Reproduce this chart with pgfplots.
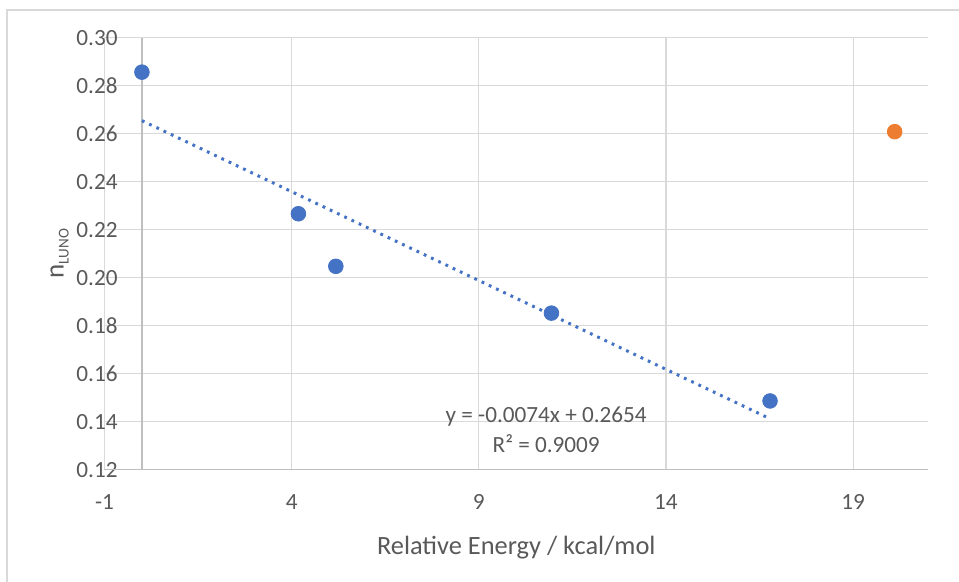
\documentclass[border=0pt]{standalone}
\usepackage{fontspec}
\setmainfont{Carlito}
\usepackage{pgfplots}
\pgfplotsset{compat=1.18}
\definecolor{gridgray}{HTML}{D9D9D9}
\definecolor{axgray}{HTML}{BFBFBF}
\definecolor{txt}{HTML}{595959}
\definecolor{xlblue}{HTML}{4472C4}
\definecolor{xlorange}{HTML}{ED7D31}

\begin{document}
\begin{tikzpicture}
% page size and chart frame
\path[use as bounding box] (-52.25pt,-56.2pt) rectangle (427.25pt,234.8pt);
\draw[gridgray, line width=0.6pt] (-48.75pt,-60pt) -- (-48.75pt,229.8pt) -- (430pt,229.8pt);
\begin{axis}[
    scale only axis, width=411.75pt, height=216pt,
    xmin=-1, xmax=21, ymin=0.12, ymax=0.30,
    xtick={-1,4,9,14,19},
    ytick={0.12,0.14,0.16,0.18,0.20,0.22,0.24,0.26,0.28,0.30},
    scaled y ticks=false,
    grid=major, major grid style={gridgray, line width=0.55pt},
    axis line style={draw=none}, major tick length=0pt,
    /pgf/number format/assume math mode=true,
    tick label style={font=\fontsize{11.6}{13}\selectfont, text=txt},
    yticklabel style={anchor=east, inner sep=0pt, xshift=6.75pt,
        /pgf/number format/.cd, fixed, fixed zerofill, precision=2},
    xticklabel style={anchor=center, inner sep=0pt, yshift=-16.1pt},
    xlabel={Relative Energy / kcal/mol},
    xlabel style={at={(axis description cs:0.5,0)}, anchor=base, yshift=-42.7pt,
        font=\fontsize{13.2}{15}\selectfont, text=txt},
    ylabel={n\raisebox{-2.5pt}{\fontsize{7.5}{9}\selectfont LUNO}},
    ylabel style={at={(axis description cs:-0.0546,0.5)}, anchor=center,
        font=\fontsize{13.5}{15}\selectfont, text=txt},
    clip=false,
]
% axis lines (Excel style: vertical axis crosses at x = 0)
\draw[axgray, line width=0.75pt] (axis cs:-1,0.12) -- (axis cs:21,0.12);
\draw[axgray, line width=0.75pt] (axis cs:0,0.12) -- (axis cs:0,0.30);

% linear trendline of the blue series
\addplot[xlblue, line width=1.5pt, line cap=butt, dash pattern=on 1.4pt off 2.6pt]
    coordinates {(0,0.2654) (16.78,0.1412)};

\addplot[only marks, mark=*, mark size=3.67pt, color=xlblue]
    coordinates {(0,0.2856) (4.18,0.2266) (5.18,0.2047) (10.94,0.1852) (16.78,0.1486)};
\addplot[only marks, mark=*, mark size=3.67pt, color=xlorange]
    coordinates {(20.11,0.2608)};

\node[align=center, text=txt, font=\fontsize{11.6}{15}\selectfont]
    at (axis cs:10.8,0.1365) {y = -0.0074x + 0.2654\\R² = 0.9009};
\end{axis}
\end{tikzpicture}
\end{document}
